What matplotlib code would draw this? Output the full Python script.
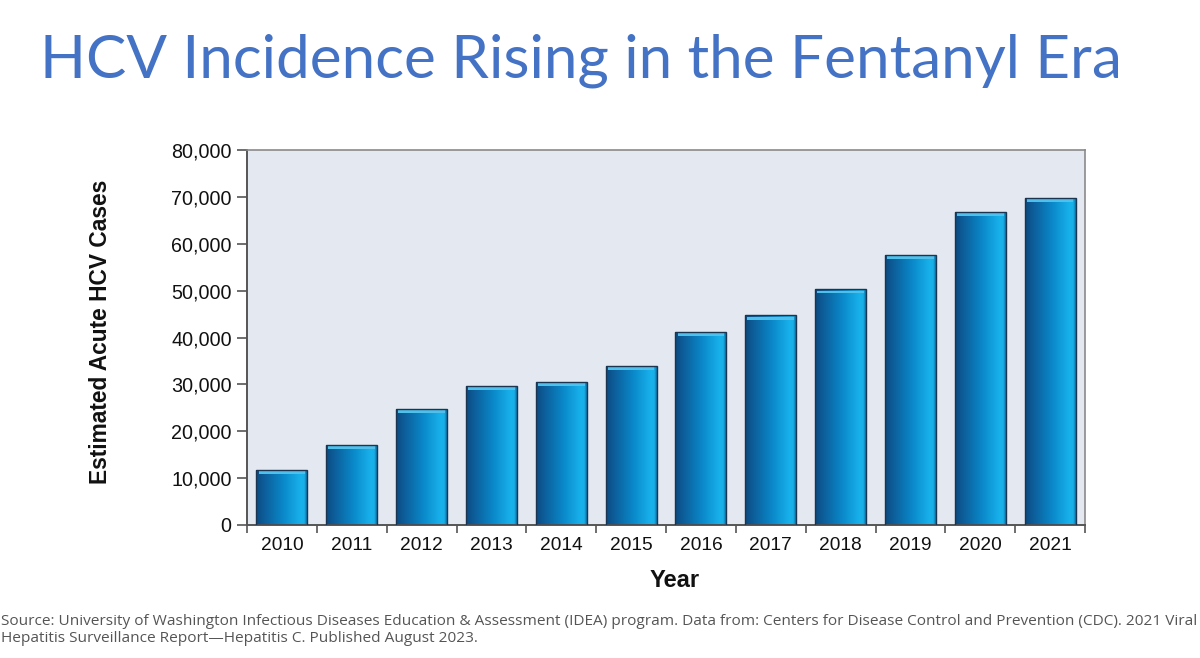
import matplotlib
matplotlib.use("Agg")
import matplotlib.pyplot as plt
import numpy as np
from matplotlib.colors import LinearSegmentedColormap
from matplotlib.ticker import FuncFormatter, FixedLocator

years = ["2010", "2011", "2012", "2013", "2014", "2015", "2016", "2017", "2018", "2019", "2020", "2021"]
cases = [11800, 17100, 24800, 29700, 30600, 34000, 41200, 44700, 50300, 57600, 66800, 69800]
yticks = [0, 10000, 20000, 30000, 40000, 50000, 60000, 70000, 80000]

title = "HCV Incidence Rising in the Fentanyl Era"
source_line1 = ("Source: University of Washington Infectious Diseases Education & Assessment (IDEA) program. "
                "Data from: Centers for Disease Control and Prevention (CDC). 2021 Viral")
source_line2 = "Hepatitis Surveillance Report\u2014Hepatitis C. Published August 2023."

fig = plt.figure(figsize=(12, 6.58), dpi=100)
fig.patch.set_facecolor("white")

ax = fig.add_axes([247/1200, 1-525/658, 838/1200, 375/658])
ax.set_facecolor("#E4E8F0")

x = np.arange(len(years))
width = 0.73
bars = ax.bar(x, cases, width=width, color="none", edgecolor="#1B3550", linewidth=1.0, zorder=3)

cmap = LinearSegmentedColormap.from_list("bar", [
    (0.0, "#0A4A80"), (0.15, "#0D5C98"), (0.55, "#0A8ACB"),
    (0.88, "#18B2EC"), (0.95, "#1AAFE6"), (1.0, "#0C6FA8")])
grad = np.linspace(0, 1, 256).reshape(1, -1)
for rect, v in zip(bars, cases):
    x0 = rect.get_x()
    w = rect.get_width()
    im = ax.imshow(grad, cmap=cmap, aspect="auto", extent=[x0, x0 + w, 0, v],
                   zorder=2, interpolation="bicubic")
    im.set_clip_path(rect)
    ax.fill_between([x0 + 0.03, x0 + w - 0.03], v - 900, v - 300, color="#4FC0EC",
                    zorder=2.5, linewidth=0)

ax.set_xlim(-0.5, len(years) - 0.5)
ax.set_ylim(0, 80000)

ax.yaxis.set_major_locator(FixedLocator(yticks))
ax.yaxis.set_major_formatter(FuncFormatter(lambda v, p: f"{int(v):,}"))
ax.set_xticks(x)
ax.set_xticklabels(years)
ax.set_xticks(np.arange(-0.5, len(years), 1.0), minor=True)
ax.tick_params(axis="x", which="major", length=0, pad=9, labelsize=13.8)
ax.tick_params(axis="x", which="minor", length=6, color="#555555", width=1.2, direction="out")
ax.tick_params(axis="y", which="major", length=7, color="#555555", width=1.2, pad=4, labelsize=14.2)
for lab in ax.get_xticklabels() + ax.get_yticklabels():
    lab.set_fontfamily("Liberation Sans")
    lab.set_color("#111111")

for side in ["top", "right"]:
    ax.spines[side].set_color("#8A8A8A")
    ax.spines[side].set_linewidth(1.2)
for side in ["left", "bottom"]:
    ax.spines[side].set_color("#555555")
    ax.spines[side].set_linewidth(1.4)

ax.text(0.51, (525-587)/375, "Year", transform=ax.transAxes, fontfamily="Liberation Sans",
        fontweight="bold", fontsize=17, color="#111111", ha="center", va="baseline")
ax.set_ylabel("Estimated Acute HCV Cases", fontfamily="Liberation Sans", fontweight="bold",
              fontsize=16.4, color="#111111", va="center")
ax.yaxis.set_label_coords((101-247)/838, (525-332)/375)

fig.text(40/1200, 1-78/658, title, fontfamily="Lato", fontsize=43.4, color="#4472C4",
         ha="left", va="baseline")

fig.text(1/1200, 1-625/658, source_line1, fontfamily="Open Sans", fontsize=11.1, color="#555555",
         ha="left", va="baseline")
fig.text(1/1200, 1-642/658, source_line2, fontfamily="Open Sans", fontsize=11.1, color="#555555",
         ha="left", va="baseline")

fig.savefig("out.png", dpi=100)
